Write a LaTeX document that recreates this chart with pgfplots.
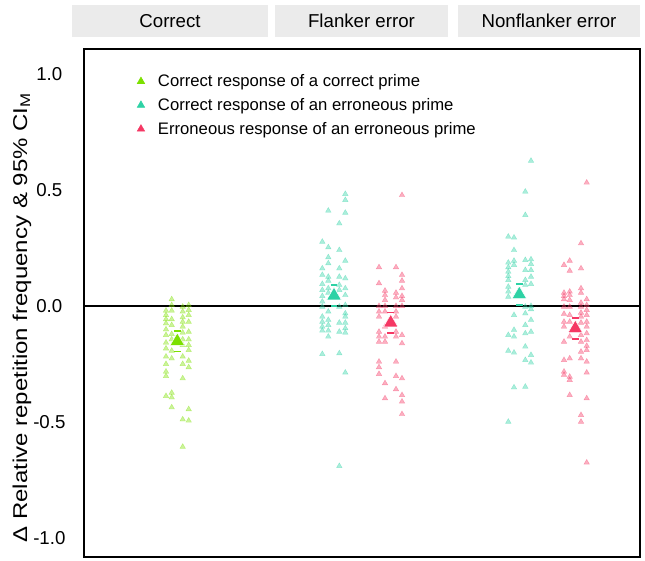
\documentclass[border=0pt]{standalone}
\usepackage{pgfplots}
\usepackage{pgfplotstable}
\pgfplotsset{compat=1.18}
\usepackage{fontspec}
\setmainfont{Liberation Sans}
\definecolor{cgreen}{RGB}{124,224,0}
\definecolor{cteal}{RGB}{46,210,165}
\definecolor{cred}{RGB}{245,56,100}
\definecolor{strip}{RGB}{235,235,235}

% x positions are in the picture's horizontal units (axis spans 84..640)
\pgfplotstableread{
x y
166 -0.020
166 -0.039
166 -0.057
166 -0.075
166 -0.101
166 -0.125
166 -0.158
166 -0.183
166 -0.218
166 -0.250
166 -0.283
166 -0.302
166 -0.388
171.7 0.029
171.7 0.004
171.7 -0.020
171.7 -0.057
171.7 -0.082
171.7 -0.121
171.7 -0.144
171.7 -0.193
171.7 -0.226
171.7 -0.374
171.7 -0.394
171.7 -0.437
182.7 -0.003
182.7 -0.024
182.7 -0.049
182.7 -0.068
182.7 -0.089
182.7 -0.115
182.7 -0.144
182.7 -0.168
182.7 -0.218
182.7 -0.250
182.7 -0.312
182.7 -0.489
182.7 -0.607
188.7 0.004
188.7 -0.017
188.7 -0.039
188.7 -0.068
188.7 -0.111
188.7 -0.144
188.7 -0.168
188.7 -0.190
188.7 -0.236
188.7 -0.264
188.7 -0.445
188.7 -0.494
}\greenpts
\pgfplotstableread{
x y
322.3 0.277
322.3 0.162
322.3 0.134
322.3 0.095
322.3 0.069
322.3 0.043
322.3 0.019
322.3 -0.003
322.3 -0.046
322.3 -0.068
322.3 -0.089
322.3 -0.106
322.3 -0.207
328.3 0.411
328.3 0.253
328.3 0.210
328.3 0.184
328.3 0.126
328.3 0.109
328.3 0.076
328.3 0.057
328.3 -0.024
328.3 -0.060
328.3 -0.082
328.3 -0.106
328.3 -0.132
339.3 0.356
339.3 0.241
339.3 0.162
339.3 0.126
339.3 0.091
339.3 0.069
339.3 -0.003
339.3 -0.072
339.3 -0.111
339.3 -0.204
339.3 -0.690
345.3 0.483
345.3 0.457
345.3 0.402
345.3 0.195
345.3 0.119
345.3 0.076
345.3 0.047
345.3 0.004
345.3 -0.032
345.3 -0.046
345.3 -0.072
345.3 -0.096
345.3 -0.115
345.3 -0.287
}\tealApts
\pgfplotstableread{
x y
379 0.167
379 0.098
379 0.000
379 -0.024
379 -0.046
379 -0.111
379 -0.132
379 -0.154
379 -0.240
379 -0.264
379 -0.293
385 0.066
385 0.047
385 0.026
385 0.000
385 -0.024
385 -0.089
385 -0.132
385 -0.154
385 -0.333
385 -0.398
396 0.167
396 0.057
396 0.037
396 0.000
396 -0.024
396 -0.046
396 -0.111
396 -0.132
396 -0.240
396 -0.302
396 -0.359
402 0.478
402 0.134
402 0.109
402 0.076
402 0.043
402 0.026
402 0.000
402 -0.125
402 -0.161
402 -0.312
402 -0.384
402 -0.412
402 -0.466
}\redApts
\pgfplotstableread{
x y
508.3 0.299
508.3 0.187
508.3 0.167
508.3 0.148
508.3 0.129
508.3 0.112
508.3 0.083
508.3 0.062
508.3 0.040
508.3 -0.125
508.3 -0.193
508.3 -0.499
514 0.295
514 0.241
514 0.195
514 0.177
514 -0.039
514 -0.103
514 -0.132
514 -0.201
514 -0.351
525.3 0.493
525.3 0.392
525.3 0.198
525.3 0.155
525.3 0.112
525.3 0.091
525.3 -0.003
525.3 -0.032
525.3 -0.082
525.3 -0.118
525.3 -0.175
525.3 -0.233
525.3 -0.348
531 0.626
531 0.201
531 0.181
531 0.155
531 0.126
531 0.095
531 0.000
531 -0.014
531 -0.060
531 -0.111
531 -0.211
531 -0.244
}\tealBpts
\pgfplotstableread{
x y
564 0.177
564 0.057
564 0.043
564 0.029
564 -0.003
564 -0.034
564 -0.068
564 -0.089
564 -0.154
564 -0.233
564 -0.283
564 -0.297
569.7 0.195
569.7 0.152
569.7 0.062
569.7 0.047
569.7 0.026
569.7 -0.003
569.7 -0.039
569.7 -0.068
569.7 -0.132
569.7 -0.226
569.7 -0.305
569.7 -0.319
569.7 -0.384
581 0.270
581 0.162
581 0.076
581 0.057
581 0.014
581 -0.003
581 -0.029
581 -0.046
581 -0.072
581 -0.125
581 -0.154
581 -0.197
581 -0.226
581 -0.470
581 -0.499
586.7 0.532
586.7 0.029
586.7 0.004
586.7 -0.017
586.7 -0.039
586.7 -0.068
586.7 -0.089
586.7 -0.118
586.7 -0.147
586.7 -0.172
586.7 -0.190
586.7 -0.240
586.7 -0.287
586.7 -0.398
586.7 -0.675
}\redBpts

\begin{document}
\begin{tikzpicture}
\begin{axis}[
  at={(63pt,2.25pt)}, anchor=south west,
  scale only axis, width=417pt, height=381pt,
  xmin=84, xmax=640, ymin=-1.082, ymax=1.108,
  clip=false,
  axis line style={black, line width=0.9pt},
  xtick=\empty,
  ytick={-1,-0.5,0,0.5,1},
  yticklabels={-1.0,-0.5,0.0,0.5,1.0},
  major tick length=0pt,
  /pgf/number format/assume math mode=true,
  yticklabel style={font=\fontsize{14}{16}\selectfont, anchor=center, xshift=-26pt},
  ylabel={\scalebox{1.2}[1]{Δ Relative repetition frequency \& 95\% CI\textsubscript{M}}},
  ylabel style={font=\fontsize{15}{17}\selectfont, at={(axis cs:22,-0.05)}, anchor=center},
  legend style={at={(axis cs:133,1.023)}, anchor=north west, draw=none, fill=none,
    font=\fontsize{12.5}{15}\selectfont, row sep=3.3pt, column sep=8pt},
  legend cell align=left,
]
\addlegendimage{only marks, mark=triangle*, mark size=3.2pt, color=cgreen}
\addlegendentry{Correct response of a correct prime}
\addlegendimage{only marks, mark=triangle*, mark size=3.2pt, color=cteal}
\addlegendentry{Correct response of an erroneous prime}
\addlegendimage{only marks, mark=triangle*, mark size=3.2pt, color=cred}
\addlegendentry{Erroneous response of an erroneous prime}

\addplot[black, line width=1.3pt, forget plot] coordinates {(84,0) (640,0)};

\addplot[only marks, mark=triangle*, mark size=2.4pt, forget plot, color=cgreen,
  mark options={solid, fill=cgreen, draw=cgreen, line width=0.3pt, opacity=0.4}] table[x=x,y=y] {\greenpts};
\addplot[only marks, mark=triangle*, mark size=2.4pt, forget plot, color=cteal,
  mark options={solid, fill=cteal, draw=cteal, line width=0.3pt, opacity=0.4}] table[x=x,y=y] {\tealApts};
\addplot[only marks, mark=triangle*, mark size=2.4pt, forget plot, color=cred,
  mark options={solid, fill=cred, draw=cred, line width=0.3pt, opacity=0.4}] table[x=x,y=y] {\redApts};
\addplot[only marks, mark=triangle*, mark size=2.4pt, forget plot, color=cteal,
  mark options={solid, fill=cteal, draw=cteal, line width=0.3pt, opacity=0.4}] table[x=x,y=y] {\tealBpts};
\addplot[only marks, mark=triangle*, mark size=2.4pt, forget plot, color=cred,
  mark options={solid, fill=cred, draw=cred, line width=0.3pt, opacity=0.4}] table[x=x,y=y] {\redBpts};

% means with 95% CI (caps only)
\addplot[only marks, mark=triangle*, mark size=6.3pt, color=cgreen, forget plot,
  mark options={draw=white, line width=0.4pt, fill=cgreen},
  error bars/.cd, y dir=both, y explicit,
  error bar style={draw=cgreen, draw opacity=0},
  error mark options={rotate=90, draw=cgreen, draw opacity=1, mark size=2.5pt, line width=1pt}]
  coordinates {(177.3,-0.152) +- (0,0.045)};
\addplot[only marks, mark=triangle*, mark size=6.3pt, color=cteal, forget plot,
  mark options={draw=white, line width=0.4pt, fill=cteal},
  error bars/.cd, y dir=both, y explicit,
  error bar style={draw=cteal, draw opacity=0},
  error mark options={rotate=90, draw=cteal, draw opacity=1, mark size=2.5pt, line width=1pt}]
  coordinates {(334,0.045) +- (0,0.045) (519.3,0.05) +- (0,0.045)};
\addplot[only marks, mark=triangle*, mark size=6.3pt, color=cred, forget plot,
  mark options={draw=white, line width=0.4pt, fill=cred},
  error bars/.cd, y dir=both, y explicit,
  error bar style={draw=cred, draw opacity=0},
  error mark options={rotate=90, draw=cred, draw opacity=1, mark size=2.5pt, line width=1pt}]
  coordinates {(390.7,-0.072) +- (0,0.045) (575.3,-0.097) +- (0,0.045)};

% facet strips
\fill[strip] (axis cs:72,1.159) rectangle (axis cs:268,1.297);
\fill[strip] (axis cs:275,1.159) rectangle (axis cs:448,1.297);
\fill[strip] (axis cs:458,1.159) rectangle (axis cs:640,1.297);
\node[font=\fontsize{14}{16}\selectfont] at (axis cs:170,1.228) {Correct};
\node[font=\fontsize{14}{16}\selectfont] at (axis cs:361.5,1.228) {Flanker error};
\node[font=\fontsize{14}{16}\selectfont] at (axis cs:549,1.228) {Nonflanker error};
\end{axis}
\pgfresetboundingbox
\path[use as bounding box] (0,0) rectangle (483.75pt,420pt);
\end{tikzpicture}
\end{document}
